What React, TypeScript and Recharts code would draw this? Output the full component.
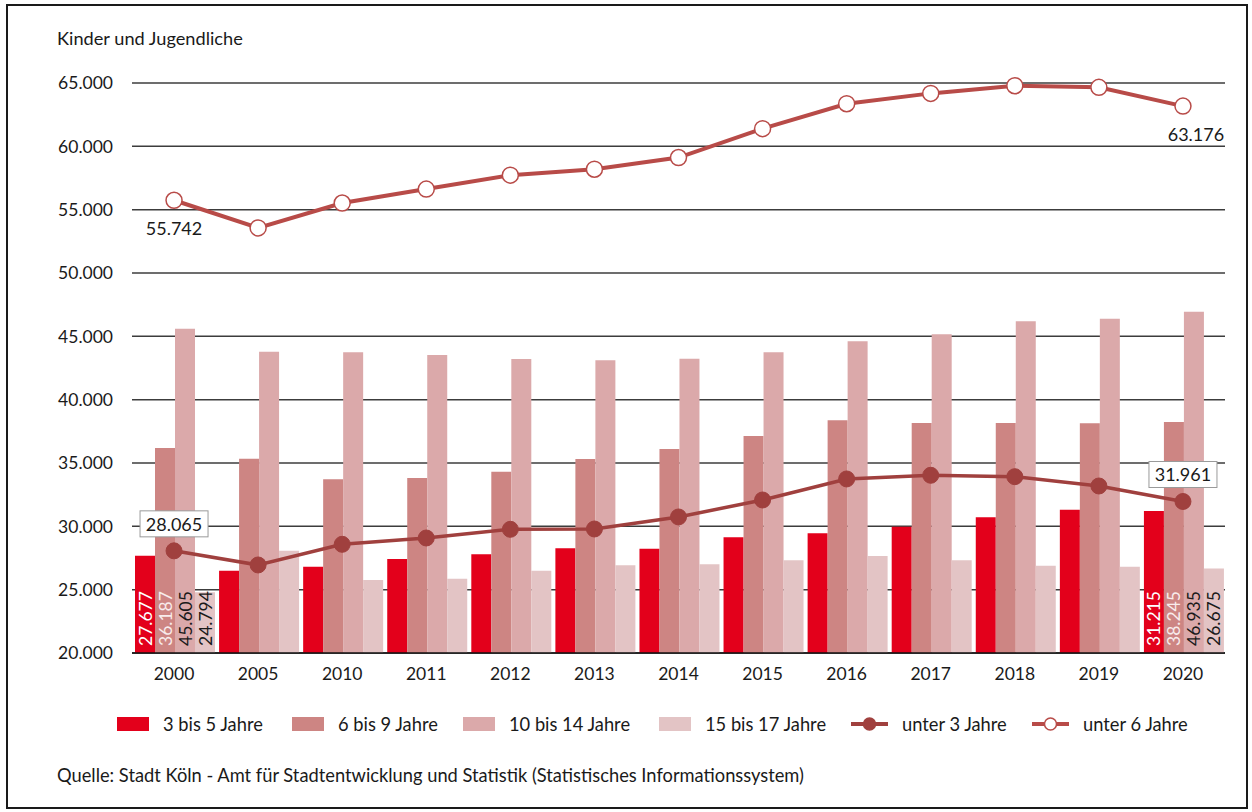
import React from "react";
import {
  Bar,
  CartesianGrid,
  ComposedChart,
  LabelList,
  Line,
  XAxis,
  YAxis,
} from "recharts";

const years = ["2000", "2005", "2010", "2011", "2012", "2013", "2014", "2015", "2016", "2017", "2018", "2019", "2020"];
const age3to5 = [27677, 26490, 26815, 27420, 27800, 28265, 28235, 29130, 29450, 29970, 30710, 31315, 31215];
const age6to9 = [36187, 35340, 33710, 33815, 34315, 35315, 36105, 37130, 38370, 38160, 38160, 38130, 38245];
const age10to14 = [45605, 43790, 43740, 43530, 43210, 43105, 43235, 43740, 44610, 45160, 46190, 46395, 46935];
const age15to17 = [24794, 28080, 25760, 25870, 26500, 26920, 27000, 27320, 27660, 27320, 26890, 26815, 26675];
const under3 = [28065, 26950, 28580, 29080, 29765, 29790, 30740, 32080, 33740, 34030, 33920, 33185, 31961];
const under6 = [55742, 53560, 55525, 56625, 57725, 58195, 59115, 61395, 63365, 64180, 64785, 64655, 63176];
const yTicks = [20000, 25000, 30000, 35000, 40000, 45000, 50000, 55000, 60000, 65000];

const FONT = "Lato, 'Open Sans', sans-serif";
const BARS = [
  { key: "a35", name: "3 bis 5 Jahre", color: "#e3001b", label: "#ffffff" },
  { key: "a69", name: "6 bis 9 Jahre", color: "#cd8583", label: "#f8ecec" },
  { key: "a1014", name: "10 bis 14 Jahre", color: "#dba9aa", label: "#1a1a1a" },
  { key: "a1517", name: "15 bis 17 Jahre", color: "#e3c4c5", label: "#1a1a1a" },
];
const U3_COLOR = "#a0403e";
const U6_COLOR = "#b84b48";

const data = years.map((year, i) => ({
  year,
  a35: age3to5[i],
  a69: age6to9[i],
  a1014: age10to14[i],
  a1517: age15to17[i],
  u3: under3[i],
  u6: under6[i],
}));

const fmt = (v: number) => String(v).replace(/\B(?=(\d{3})+(?!\d))/g, ".");
const last = years.length - 1;

function barLabel(color: string) {
  return (props: any) => {
    const { x, y, width, height, value, index } = props;
    if (index !== 0 && index !== last) return null;
    const cx = Number(x) + Number(width) / 2;
    const by = Number(y) + Number(height) - 7;
    return (
      <text
        x={cx}
        y={by}
        transform={`rotate(-90 ${cx} ${by})`}
        fill={color}
        fontSize={17.5}
        fontFamily={FONT}
        textAnchor="start"
        dominantBaseline="central"
      >
        {fmt(Number(value))}
      </text>
    );
  };
}

function boxLabel(props: any) {
  const { x, y, value, index } = props;
  if (index !== 0 && index !== last) return null;
  const cx = Number(x);
  const cy = Number(y) - 27;
  return (
    <g>
      <rect x={cx - 34} y={cy - 13} width={68} height={26} fill="#fff" stroke="#9a9a9a" strokeWidth={1} />
      <text x={cx} y={cy} fill="#1a1a1a" fontSize={18} fontFamily={FONT} textAnchor="middle" dominantBaseline="central">
        {fmt(Number(value))}
      </text>
    </g>
  );
}

function plainLabel(props: any) {
  const { x, y, value, index } = props;
  if (index !== 0 && index !== last) return null;
  const dx = index === last ? 13 : 0;
  return (
    <text x={Number(x) + dx} y={Number(y) + 28} fill="#1a1a1a" fontSize={18} fontFamily={FONT} textAnchor="middle" dominantBaseline="central">
      {fmt(Number(value))}
    </text>
  );
}

const legendLeft = [117, 292, 463, 659, 851, 1032];

function LegendRow() {
  const items = [
    ...BARS.map((b) => ({ name: b.name, color: b.color, kind: "bar" })),
    { name: "unter 3 Jahre", color: U3_COLOR, kind: "dot" },
    { name: "unter 6 Jahre", color: U6_COLOR, kind: "ring" },
  ];
  return (
    <>
      {items.map((item, i) => (
        <div
          key={item.name}
          style={{ position: "absolute", left: legendLeft[i], top: 712, height: 24, display: "flex", alignItems: "center" }}
        >
          {item.kind === "bar" ? (
            <div style={{ width: 32, height: 14, background: item.color }} />
          ) : (
            <svg width={37} height={16}>
              <line x1={0} y1={8} x2={37} y2={8} stroke={item.color} strokeWidth={4} />
              <circle cx={18.5} cy={8} r={6} fill={item.kind === "dot" ? item.color : "#fff"} stroke={item.color} strokeWidth={1.5} />
            </svg>
          )}
          <span style={{ marginLeft: 14, fontSize: 18.3, color: "#1a1a1a", whiteSpace: "nowrap" }}>{item.name}</span>
        </div>
      ))}
    </>
  );
}

export default function App() {
  return (
    <div style={{ position: "absolute", left: 0, top: 0, width: 1252, height: 812, background: "#fff", fontFamily: FONT }}>
      <div
        style={{
          position: "absolute",
          left: 6,
          top: 4,
          width: 1242,
          height: 805,
          border: "2px solid #1a1a1a",
          boxSizing: "border-box",
        }}
      />
      <div style={{ position: "absolute", left: 57, top: 27, fontSize: 18.2, color: "#1a1a1a" }}>Kinder und Jugendliche</div>
      <ComposedChart
        width={1252}
        height={812}
        data={data}
        margin={{ top: 83, right: 27, bottom: 119, left: 0 }}
        barCategoryGap={3}
        barGap={0}
        style={{ position: "absolute", left: 0, top: 0 }}
      >
        <CartesianGrid vertical={false} stroke="#3c3c3c" strokeWidth={1.5} />
        <XAxis
          dataKey="year"
          height={40}
          tickLine={false}
          tickSize={0}
          tickMargin={15}
          axisLine={{ stroke: "#111", strokeWidth: 1.5 }}
          tick={{ fill: "#1a1a1a", fontSize: 17.5, fontFamily: FONT }}
        />
        <YAxis
          width={132}
          domain={[20000, 65000]}
          ticks={yTicks}
          tickFormatter={(v) => fmt(Number(v))}
          axisLine={false}
          tickLine={false}
          tickSize={0}
          tickMargin={19}
          tick={{ fill: "#1a1a1a", fontSize: 17.5, fontFamily: FONT }}
        />
        {BARS.map((b) => (
          <Bar key={b.key} dataKey={b.key} name={b.name} fill={b.color} isAnimationActive={false}>
            <LabelList dataKey={b.key} content={barLabel(b.label)} />
          </Bar>
        ))}
        <Line
          dataKey="u3"
          name="unter 3 Jahre"
          stroke={U3_COLOR}
          strokeWidth={3.5}
          dot={{ r: 8, fill: U3_COLOR, stroke: U3_COLOR, strokeWidth: 1 }}
          isAnimationActive={false}
        >
          <LabelList dataKey="u3" content={boxLabel} />
        </Line>
        <Line
          dataKey="u6"
          name="unter 6 Jahre"
          stroke={U6_COLOR}
          strokeWidth={4}
          dot={{ r: 8, fill: "#fff", stroke: U6_COLOR, strokeWidth: 1.5 }}
          isAnimationActive={false}
        >
          <LabelList dataKey="u6" content={plainLabel} />
        </Line>
      </ComposedChart>
      <LegendRow />
      <div style={{ position: "absolute", left: 57, top: 764, fontSize: 18.3, color: "#1a1a1a", whiteSpace: "nowrap" }}>
        Quelle: Stadt Köln - Amt für Stadtentwicklung und Statistik (Statistisches Informationssystem)
      </div>
    </div>
  );
}
